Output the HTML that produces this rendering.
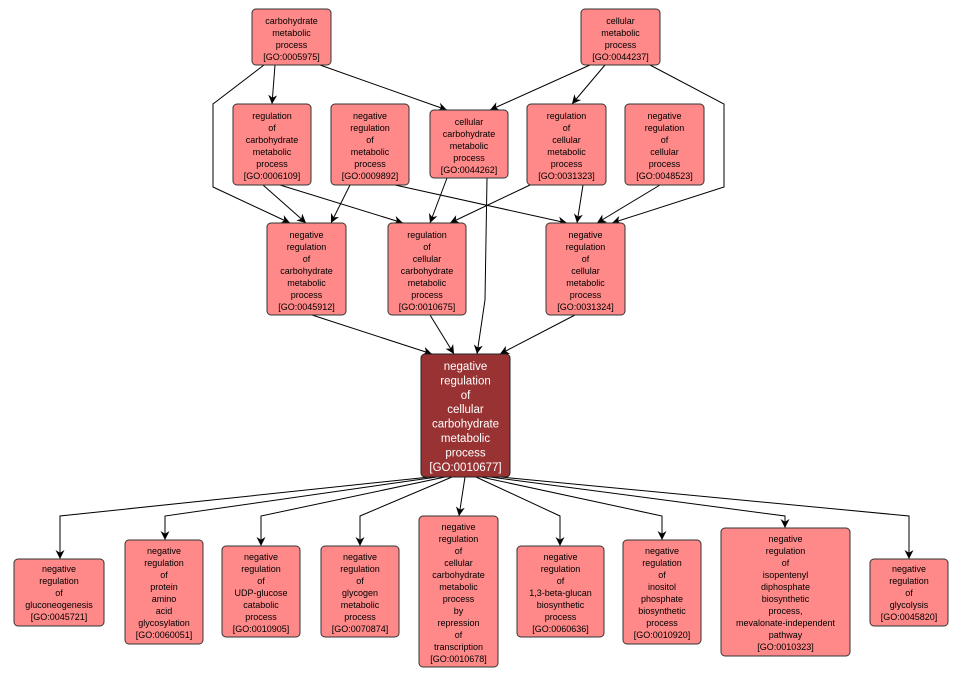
<!DOCTYPE html>
<html><head><meta charset="utf-8"><style>
body{margin:0;background:#fff;width:963px;height:678px;overflow:hidden}
text{font-family:"Liberation Sans",sans-serif;font-size:9px;fill:#000;text-anchor:middle}
.m text{fill:#fff;font-size:11.5px}
rect{fill:#ff8888;stroke:#333;stroke-width:1}
.l{fill:none;stroke:#000;stroke-width:1}
</style></head><body>
<svg width="963" height="678" xmlns="http://www.w3.org/2000/svg">
<defs><marker id="a" viewBox="0 0 10 10" refX="10" refY="5" markerWidth="9" markerHeight="9" orient="auto" markerUnits="userSpaceOnUse"><path d="M0,0L10,5L0,10L3,5z" fill="#000"/></marker></defs>
<g class="l" marker-end="url(#a)">
<path d="M275,65L272,104"/>
<path d="M320,65L447,110"/>
<path d="M264,65L213,104L213,187L290,223"/>
<path d="M590,65L490,110"/>
<path d="M605,65L572,104"/>
<path d="M650,65L724,104L724,187L612,223"/>
<path d="M263,185L306,223"/>
<path d="M280,185L403,223"/>
<path d="M350,185L331,223"/>
<path d="M395,185L567,223"/>
<path d="M447,178L430,223"/>
<path d="M487,178L485,300L477,354"/>
<path d="M530,185L450,223"/>
<path d="M583,185L577,223"/>
<path d="M660,185L597,223"/>
<path d="M312,315L432,354"/>
<path d="M430,315L454,354"/>
<path d="M575,315L500,354"/>
<path d="M430,477L60,516L60,559"/>
<path d="M437,477L165,516L165,540"/>
<path d="M445,477L261,516L261,546"/>
<path d="M452,477L360,516L360,546"/>
<path d="M465,477L459,516"/>
<path d="M476,477L560,516L560,546"/>
<path d="M481,477L662,516L662,540"/>
<path d="M490,477L785,516L785,528"/>
<path d="M500,477L909,516L909,559"/>
</g>
<g>
<rect x="252" y="9" width="79" height="56" rx="4"/>
<text x="291.5" y="24">carbohydrate</text><text x="291.5" y="36">metabolic</text><text x="291.5" y="48">process</text><text x="291.5" y="60">[GO:0005975]</text>
<rect x="581" y="9" width="79" height="56" rx="4"/>
<text x="620.5" y="24">cellular</text><text x="620.5" y="36">metabolic</text><text x="620.5" y="48">process</text><text x="620.5" y="60">[GO:0044237]</text>
<rect x="233" y="104" width="78" height="81" rx="4"/>
<text x="272" y="119">regulation</text><text x="272" y="131">of</text><text x="272" y="143">carbohydrate</text><text x="272" y="155">metabolic</text><text x="272" y="167">process</text><text x="272" y="179">[GO:0006109]</text>
<rect x="331" y="104" width="78" height="81" rx="4"/>
<text x="370" y="119">negative</text><text x="370" y="131">regulation</text><text x="370" y="143">of</text><text x="370" y="155">metabolic</text><text x="370" y="167">process</text><text x="370" y="179">[GO:0009892]</text>
<rect x="430" y="110" width="78" height="68" rx="4"/>
<text x="469" y="125">cellular</text><text x="469" y="137">carbohydrate</text><text x="469" y="149">metabolic</text><text x="469" y="161">process</text><text x="469" y="173">[GO:0044262]</text>
<rect x="527" y="104" width="79" height="81" rx="4"/>
<text x="566.5" y="119">regulation</text><text x="566.5" y="131">of</text><text x="566.5" y="143">cellular</text><text x="566.5" y="155">metabolic</text><text x="566.5" y="167">process</text><text x="566.5" y="179">[GO:0031323]</text>
<rect x="625" y="104" width="79" height="81" rx="4"/>
<text x="664.5" y="119">negative</text><text x="664.5" y="131">regulation</text><text x="664.5" y="143">of</text><text x="664.5" y="155">cellular</text><text x="664.5" y="167">process</text><text x="664.5" y="179">[GO:0048523]</text>
<rect x="267" y="223" width="79" height="92" rx="4"/>
<text x="306.5" y="238">negative</text><text x="306.5" y="250">regulation</text><text x="306.5" y="262">of</text><text x="306.5" y="274">carbohydrate</text><text x="306.5" y="286">metabolic</text><text x="306.5" y="298">process</text><text x="306.5" y="310">[GO:0045912]</text>
<rect x="388" y="223" width="78" height="92" rx="4"/>
<text x="427" y="238">regulation</text><text x="427" y="250">of</text><text x="427" y="262">cellular</text><text x="427" y="274">carbohydrate</text><text x="427" y="286">metabolic</text><text x="427" y="298">process</text><text x="427" y="310">[GO:0010675]</text>
<rect x="546" y="223" width="79" height="92" rx="4"/>
<text x="585.5" y="238">negative</text><text x="585.5" y="250">regulation</text><text x="585.5" y="262">of</text><text x="585.5" y="274">cellular</text><text x="585.5" y="286">metabolic</text><text x="585.5" y="298">process</text><text x="585.5" y="310">[GO:0031324]</text>
</g>
<g class="m">
<rect x="421" y="354" width="89" height="123" rx="4" style="fill:#993333;stroke:#222"/>
<text x="465.5" y="370">negative</text><text x="465.5" y="384.4">regulation</text><text x="465.5" y="398.8">of</text><text x="465.5" y="413.2">cellular</text><text x="465.5" y="427.6">carbohydrate</text><text x="465.5" y="442">metabolic</text><text x="465.5" y="456.4">process</text><text x="465.5" y="470.8">[GO:0010677]</text>
</g>
<g>
<rect x="14" y="559" width="90" height="67" rx="4"/>
<text x="59" y="572">negative</text><text x="59" y="584">regulation</text><text x="59" y="596">of</text><text x="59" y="608">gluconeogenesis</text><text x="59" y="620">[GO:0045721]</text>
<rect x="125" y="540" width="78" height="104" rx="4"/>
<text x="164" y="554">negative</text><text x="164" y="566">regulation</text><text x="164" y="578">of</text><text x="164" y="590">protein</text><text x="164" y="602">amino</text><text x="164" y="614">acid</text><text x="164" y="626">glycosylation</text><text x="164" y="638">[GO:0060051]</text>
<rect x="222" y="546" width="78" height="91" rx="4"/>
<text x="261" y="560">negative</text><text x="261" y="572">regulation</text><text x="261" y="584">of</text><text x="261" y="596">UDP-glucose</text><text x="261" y="608">catabolic</text><text x="261" y="620">process</text><text x="261" y="632">[GO:0010905]</text>
<rect x="321" y="546" width="78" height="91" rx="4"/>
<text x="360" y="560">negative</text><text x="360" y="572">regulation</text><text x="360" y="584">of</text><text x="360" y="596">glycogen</text><text x="360" y="608">metabolic</text><text x="360" y="620">process</text><text x="360" y="632">[GO:0070874]</text>
<rect x="419" y="516" width="79" height="151" rx="4"/>
<text x="458.5" y="530">negative</text><text x="458.5" y="542">regulation</text><text x="458.5" y="554">of</text><text x="458.5" y="566">cellular</text><text x="458.5" y="578">carbohydrate</text><text x="458.5" y="590">metabolic</text><text x="458.5" y="602">process</text><text x="458.5" y="614">by</text><text x="458.5" y="626">repression</text><text x="458.5" y="638">of</text><text x="458.5" y="650">transcription</text><text x="458.5" y="662">[GO:0010678]</text>
<rect x="517" y="546" width="87" height="91" rx="4"/>
<text x="560.5" y="560">negative</text><text x="560.5" y="572">regulation</text><text x="560.5" y="584">of</text><text x="560.5" y="596">1,3-beta-glucan</text><text x="560.5" y="608">biosynthetic</text><text x="560.5" y="620">process</text><text x="560.5" y="632">[GO:0060636]</text>
<rect x="623" y="540" width="78" height="104" rx="4"/>
<text x="662" y="554">negative</text><text x="662" y="566">regulation</text><text x="662" y="578">of</text><text x="662" y="590">inositol</text><text x="662" y="602">phosphate</text><text x="662" y="614">biosynthetic</text><text x="662" y="626">process</text><text x="662" y="638">[GO:0010920]</text>
<rect x="721" y="528" width="129" height="128" rx="4"/>
<text x="785.5" y="542">negative</text><text x="785.5" y="554">regulation</text><text x="785.5" y="566">of</text><text x="785.5" y="578">isopentenyl</text><text x="785.5" y="590">diphosphate</text><text x="785.5" y="602">biosynthetic</text><text x="785.5" y="614">process,</text><text x="785.5" y="626">mevalonate-independent</text><text x="785.5" y="638">pathway</text><text x="785.5" y="650">[GO:0010323]</text>
<rect x="870" y="559" width="78" height="67" rx="4"/>
<text x="909" y="572">negative</text><text x="909" y="584">regulation</text><text x="909" y="596">of</text><text x="909" y="608">glycolysis</text><text x="909" y="620">[GO:0045820]</text>
</g>
</svg>
</body></html>
